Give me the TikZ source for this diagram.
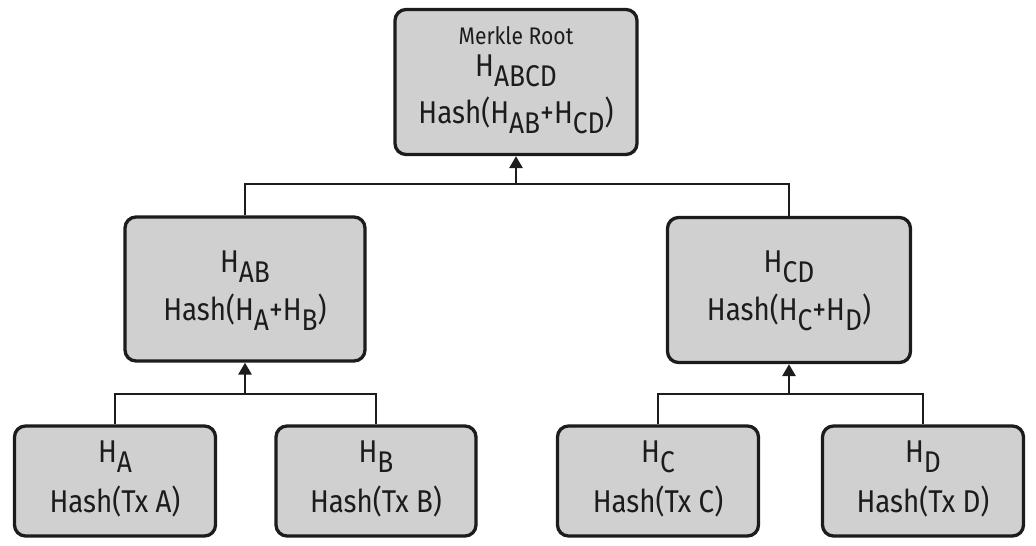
\documentclass[tikz,border=0pt]{standalone}
\usepackage{fontspec}
\setmainfont[FakeStretch=0.88]{Fira Sans}
\usetikzlibrary{arrows.meta}
\definecolor{boxfill}{RGB}{208,208,208}
\definecolor{ink}{RGB}{28,28,28}
\newcommand\lowsub[1]{\raisebox{-0.32em}{\scalebox{0.95}{#1}}}
\tikzset{
  hbox/.style={draw=ink, line width=3.3pt, fill=boxfill, rounded corners=11pt, inner sep=0pt},
  txt/.style={anchor=base, inner sep=0pt, text=ink, font=\fontsize{31.5}{36}\selectfont},
  smalltxt/.style={anchor=base, inner sep=0pt, text=ink, font=\fontsize{24}{28}\selectfont},
  conn/.style={draw=ink, line width=2.8pt},
  arr/.style={conn, -{Triangle[length=12pt,width=13pt]}}
}
\begin{document}
\begin{tikzpicture}[x=1pt,y=-1pt]
\useasboundingbox (0,0) rectangle (1036,546);
% boxes
\node[hbox, minimum width=242pt, minimum height=145pt] (root) at (516,82) {};
\node[hbox, minimum width=240pt, minimum height=144pt] (hab) at (245,289) {};
\node[hbox, minimum width=243pt, minimum height=145pt] (hcd) at (789,290) {};
\node[hbox, minimum width=201pt, minimum height=110pt] (ha) at (115,481) {};
\node[hbox, minimum width=200pt, minimum height=110pt] (hb) at (376,481) {};
\node[hbox, minimum width=201pt, minimum height=110pt] (hc) at (658,481) {};
\node[hbox, minimum width=201pt, minimum height=110pt] (hd) at (923,481) {};
% texts
\node[smalltxt] (rootT1) at (516,44) {Merkle Root};
\node[txt] (rootT2) at (516,76) {H\lowsub{ABCD}};
\node[txt] (rootT3) at (516,123) {Hash(H\lowsub{AB}+H\lowsub{CD})};
\node[txt] (habT1) at (245,272) {H\lowsub{AB}};
\node[txt] (habT2) at (245,320) {Hash(H\lowsub{A}+H\lowsub{B})};
\node[txt] (hcdT1) at (789,272) {H\lowsub{CD}};
\node[txt] (hcdT2) at (789,320) {Hash(H\lowsub{C}+H\lowsub{D})};
\node[txt] (haT1) at (115,462) {H\lowsub{A}};
\node[txt] (haT2) at (115,512) {Hash(Tx A)};
\node[txt] (hbT1) at (376,462) {H\lowsub{B}};
\node[txt] (hbT2) at (376,512) {Hash(Tx B)};
\node[txt] (hcT1) at (658,462) {H\lowsub{C}};
\node[txt] (hcT2) at (658,512) {Hash(Tx C)};
\node[txt] (hdT1) at (923,462) {H\lowsub{D}};
\node[txt] (hdT2) at (923,512) {Hash(Tx D)};
% junctions
\coordinate (j0) at (516,184);
\coordinate (j1) at (245,394);
\coordinate (j2) at (789,394);
% connectors
\draw[conn] (hab.north) |- (j0) -| (hcd.north);
\draw[arr] (j0) -- (root.south);
\draw[conn] (ha.north) |- (j1) -| (hb.north);
\draw[arr] (j1) -- (hab.south);
\draw[conn] (hc.north) |- (j2) -| (hd.north);
\draw[arr] (j2) -- (hcd.south);
\end{tikzpicture}
\end{document}
